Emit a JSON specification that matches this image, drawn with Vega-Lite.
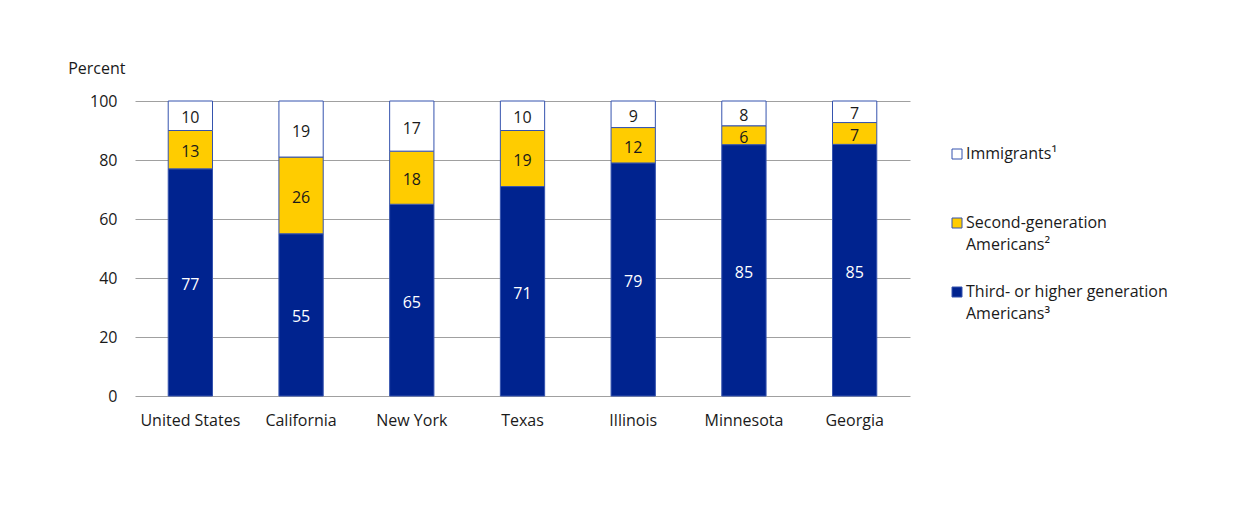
{
  "$schema": "https://vega.github.io/schema/vega-lite/v6.json",
  "width": 775,
  "height": 295,
  "autosize": {"type": "none"},
  "padding": {"left": 135, "top": 101, "right": 338, "bottom": 118},
  "background": "white",
  "config": {"font": "Open Sans", "view": {"stroke": null}, "style": {"guide-label": {"lineHeight": 22}}},
  "data": {"values": [
    {"state": "United States", "group": "Third- or higher generation Americans³", "value": 77},
    {"state": "United States", "group": "Second-generation Americans²", "value": 13},
    {"state": "United States", "group": "Immigrants¹", "value": 10},
    {"state": "California", "group": "Third- or higher generation Americans³", "value": 55},
    {"state": "California", "group": "Second-generation Americans²", "value": 26},
    {"state": "California", "group": "Immigrants¹", "value": 19},
    {"state": "New York", "group": "Third- or higher generation Americans³", "value": 65},
    {"state": "New York", "group": "Second-generation Americans²", "value": 18},
    {"state": "New York", "group": "Immigrants¹", "value": 17},
    {"state": "Texas", "group": "Third- or higher generation Americans³", "value": 71},
    {"state": "Texas", "group": "Second-generation Americans²", "value": 19},
    {"state": "Texas", "group": "Immigrants¹", "value": 10},
    {"state": "Illinois", "group": "Third- or higher generation Americans³", "value": 79},
    {"state": "Illinois", "group": "Second-generation Americans²", "value": 12},
    {"state": "Illinois", "group": "Immigrants¹", "value": 9},
    {"state": "Minnesota", "group": "Third- or higher generation Americans³", "value": 85.2},
    {"state": "Minnesota", "group": "Second-generation Americans²", "value": 6.4},
    {"state": "Minnesota", "group": "Immigrants¹", "value": 8.4},
    {"state": "Georgia", "group": "Third- or higher generation Americans³", "value": 85.3},
    {"state": "Georgia", "group": "Second-generation Americans²", "value": 7.4},
    {"state": "Georgia", "group": "Immigrants¹", "value": 7.3}
  ]},
  "transform": [
    {"stack": "value", "groupby": ["state"], "sort": [{"field": "group", "order": "descending"}], "as": ["v0", "v1"]},
    {"calculate": "(datum.v0 + datum.v1) / 2", "as": "mid"}
  ],
  "encoding": {
    "x": {
      "field": "state", "type": "nominal",
      "sort": ["United States", "California", "New York", "Texas", "Illinois", "Minnesota", "Georgia"],
      "scale": {"paddingInner": 0.6, "paddingOuter": 0.3},
      "axis": {"title": null, "labelAngle": 0, "domain": false, "ticks": false, "labelPadding": 16, "labelFontSize": 16, "labelColor": "#1a1a1a"}
    }
  },
  "layer": [
    {
      "mark": {"type": "bar", "stroke": "#3553AE", "strokeWidth": 1},
      "encoding": {
        "y": {
          "field": "v0", "type": "quantitative",
          "scale": {"domain": [0, 100], "nice": false},
          "axis": {
            "values": [0, 20, 40, 60, 80, 100],
            "grid": true, "gridColor": "#a0a0a0", "domain": false, "ticks": false,
            "labelPadding": 18, "labelFontSize": 16, "labelColor": "#1a1a1a",
            "title": "Percent", "titleAngle": 0, "titleAlign": "right", "titleBaseline": "middle",
            "titleX": -10, "titleY": -33, "titleFontWeight": "normal", "titleFontSize": 16, "titleColor": "#1a1a1a"
          }
        },
        "y2": {"field": "v1"},
        "color": {
          "field": "group", "type": "nominal",
          "scale": {
            "domain": ["Immigrants¹", "Second-generation Americans²", "Third- or higher generation Americans³"],
            "range": ["#ffffff", "#FFCC00", "#00238F"]
          },
          "legend": {
            "title": null, "orient": "none", "legendX": 814, "legendY": 45,
            "symbolType": "square", "symbolSize": 100, "symbolStrokeColor": "#3553AE", "symbolStrokeWidth": 1,
            "labelFontSize": 16, "labelColor": "#1a1a1a", "labelOffset": 1, "rowPadding": 31, "labelLimit": 400,
            "labelExpr": "datum.label == 'Second-generation Americans²' ? ['Second-generation', 'Americans²'] : datum.label == 'Third- or higher generation Americans³' ? ['Third- or higher generation', 'Americans³'] : [datum.label, ' ']"
          }
        }
      }
    },
    {
      "mark": {"type": "text", "fontSize": 16, "dy": 2.5},
      "encoding": {
        "y": {"field": "mid", "type": "quantitative"},
        "text": {"field": "value", "type": "quantitative", "format": ".0f"},
        "color": {"condition": {"test": "datum.group == 'Third- or higher generation Americans³'", "value": "#ffffff"}, "value": "#1a1a1a"}
      }
    }
  ]
}
